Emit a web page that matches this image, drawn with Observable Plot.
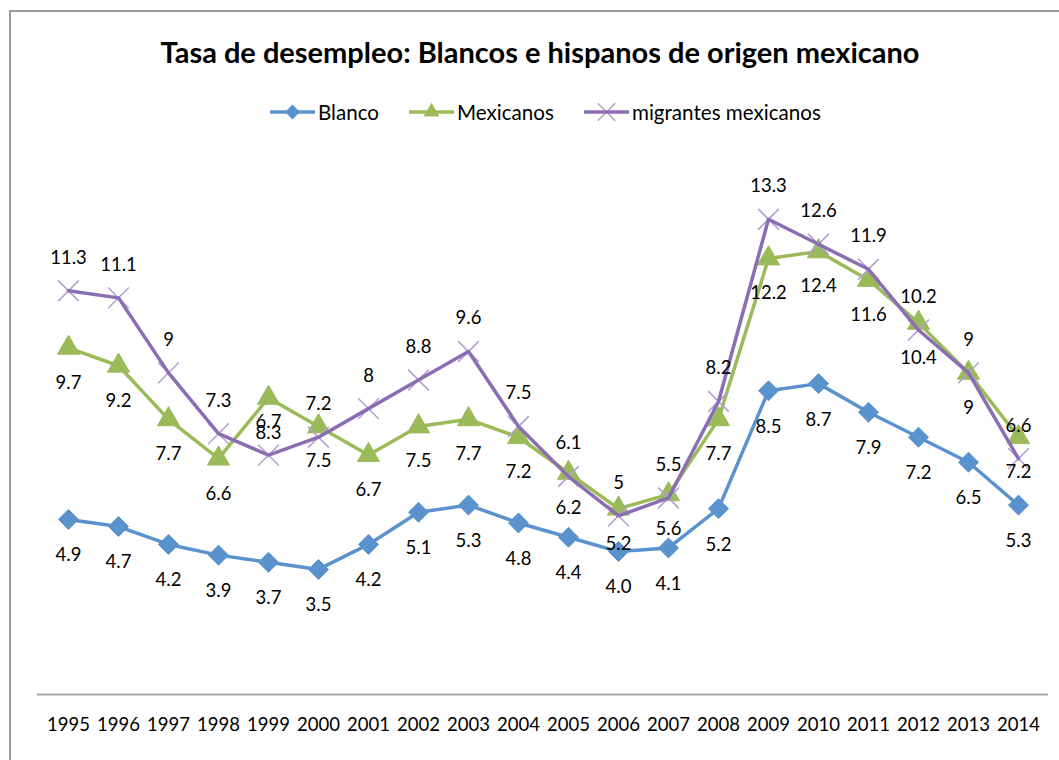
<!DOCTYPE html>
<html>
<head>
<meta charset="utf-8">
<script src="https://cdn.jsdelivr.net/npm/d3@7"></script>
<script src="https://cdn.jsdelivr.net/npm/@observablehq/plot@0.6"></script>
<style>
  html, body { margin: 0; padding: 0; background: #fff; }
  #wrap { position: relative; width: 1059px; height: 760px; overflow: hidden; font-family: Lato, "Open Sans", sans-serif; color: #000; }
  #frame { position: absolute; left: 9px; top: 10px; width: 1200px; height: 900px; border-left: 2px solid #9a9a9a; border-top: 2px solid #9a9a9a; }
  #title { position: absolute; left: 10px; width: 1060px; top: 34px; text-align: center; font-weight: 700; font-size: 29px; line-height: 36px; }
  #legend { position: absolute; left: 270px; top: 100px; height: 24px; display: flex; align-items: center; font-size: 20.6px; }
  #legend .item { display: flex; align-items: center; margin-right: 30px; }
  #legend svg { margin-right: 3px; }
  #chart { position: absolute; left: 0; top: 130px; }
</style>
</head>
<body>
<div id="wrap">
  <div id="frame"></div>
  <div id="title">Tasa de desempleo: Blancos e hispanos de origen mexicano</div>
  <div id="legend"></div>
  <div id="chart"></div>
</div>
<script>
const years = ["1995","1996","1997","1998","1999","2000","2001","2002","2003","2004","2005","2006","2007","2008","2009","2010","2011","2012","2013","2014"];
const blanco = [4.9,4.7,4.2,3.9,3.7,3.5,4.2,5.1,5.3,4.8,4.4,4.0,4.1,5.2,8.5,8.7,7.9,7.2,6.5,5.3];
const mexicanos = [9.7,9.2,7.7,6.6,8.3,7.5,6.7,7.5,7.7,7.2,6.2,5.2,5.6,7.7,12.2,12.4,11.6,10.4,9,7.2];
const migrantes = [11.3,11.1,9,7.3,6.7,7.2,8,8.8,9.6,7.5,6.1,5,5.5,8.2,13.3,12.6,11.9,10.2,9,6.6];
const seriesNames = ["Blanco", "Mexicanos", "migrantes mexicanos"];

const cBlue = "#5a92ce", cGreen = "#9bbb59", cPurple = "#8b6db3", cX = "#b3a2d2";

const rows = (vals) => years.map((y, i) => ({year: y, value: vals[i]}));
const dB = rows(blanco), dM = rows(mexicanos), dG = rows(migrantes);

const font = "Lato, 'Open Sans', sans-serif";
const fs = 18.5;

const plot = Plot.plot({
  width: 1059,
  height: 630,
  marginLeft: 37,
  marginRight: 11,
  marginTop: 28,
  marginBottom: 66,
  style: {fontFamily: font, fontSize: fs + "px", color: "#000", background: "transparent", overflow: "visible"},
  x: {type: "point", domain: years, padding: 0.5, label: null},
  y: {domain: [0, 15], axis: null},
  marks: [
    Plot.ruleY([0], {stroke: "#a6a6a6", strokeWidth: 2}),
    Plot.axisX({tickSize: 0, tickPadding: 23, fontSize: fs, fill: "#000", label: null}),
    Plot.line(dB, {x: "year", y: "value", stroke: cBlue, strokeWidth: 3.5}),
    Plot.dot(dB, {x: "year", y: "value", symbol: "diamond2", r: 9, fill: cBlue, stroke: cBlue, strokeWidth: 1}),
    Plot.line(dM, {x: "year", y: "value", stroke: cGreen, strokeWidth: 3.5}),
    Plot.dot(dM, {x: "year", y: "value", symbol: "triangle", r: 8.2, fill: cGreen, stroke: cGreen, strokeWidth: 1}),
    Plot.dot(dG, {x: "year", y: "value", symbol: "times", r: 9.5, stroke: cX, strokeWidth: 1.6}),
    Plot.line(dG, {x: "year", y: "value", stroke: cPurple, strokeWidth: 3.5}),
    Plot.text(dB, {x: "year", y: "value", text: d => d.value.toFixed(1), dy: 36, fontSize: fs, fill: "#000"}),
    Plot.text(dM, {x: "year", y: "value", text: d => String(d.value), dy: 35, fontSize: fs, fill: "#000"}),
    Plot.text(dG, {x: "year", y: "value", text: d => String(d.value), dy: -33, fontSize: fs, fill: "#000"})
  ]
});
document.getElementById("chart").appendChild(plot);

// legend
const legend = d3.select("#legend");
const swatch = [
  {name: seriesNames[0], color: cBlue, sym: "diamond"},
  {name: seriesNames[1], color: cGreen, sym: "triangle"},
  {name: seriesNames[2], color: cPurple, sym: "times"}
];
swatch.forEach(s => {
  const it = legend.append("div").attr("class", "item");
  const svg = it.append("svg").attr("width", 45).attr("height", 24);
  svg.append("line").attr("x1", 0).attr("x2", 45).attr("y1", 12).attr("y2", 12)
    .attr("stroke", s.color).attr("stroke-width", 3.5);
  if (s.sym === "diamond") {
    svg.append("path").attr("d", d3.symbol(d3.symbolDiamond2, 140)()).attr("transform", "translate(22.5,12)").attr("fill", s.color);
  } else if (s.sym === "triangle") {
    svg.append("path").attr("d", d3.symbol(d3.symbolTriangle, 110)()).attr("transform", "translate(22.5,12)").attr("fill", s.color);
  } else {
    svg.insert("path", "line").attr("d", d3.symbol(d3.symbolTimes, 200)()).attr("transform", "translate(22.5,12)").attr("fill", "none").attr("stroke", cX).attr("stroke-width", 1.6);
  }
  it.append("span").text(s.name);
});
</script>
</body>
</html>
